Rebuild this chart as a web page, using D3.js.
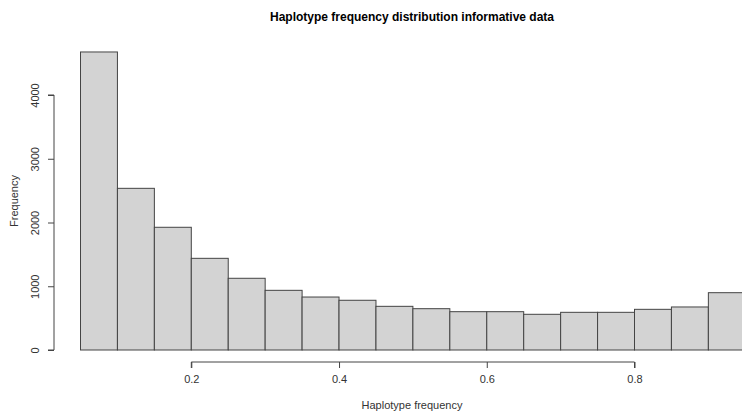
<!DOCTYPE html>
<html>
<head>
<meta charset="utf-8">
<script src="https://cdn.jsdelivr.net/npm/d3@7"></script>
<style>
  html, body { margin: 0; padding: 0; background: #fff; }
  svg { display: block; font-family: "Liberation Sans", Arial, sans-serif; }
</style>
</head>
<body>
<svg id="chart" width="742" height="411"></svg>
<script>
// Histogram bins (lower edges, width 0.05) and counts
const binStarts = [0.05, 0.10, 0.15, 0.20, 0.25, 0.30, 0.35, 0.40, 0.45,
                   0.50, 0.55, 0.60, 0.65, 0.70, 0.75, 0.80, 0.85, 0.90];
const counts = [4675, 2536, 1925, 1438, 1125, 936, 831, 780, 685,
                648, 601, 601, 560, 591, 591, 638, 675, 899];
const binWidth = 0.05;
const xTicks = [0.2, 0.4, 0.6, 0.8];
const yTicks = [0, 1000, 2000, 3000, 4000];

const titleText = "Haplotype frequency distribution informative data";
const xLabel = "Haplotype frequency";
const yLabel = "Frequency";

const svg = d3.select("#chart");

const x = d3.scaleLinear().domain([0.2, 0.8]).range([191.3, 634.5]);
const y = d3.scaleLinear().domain([0, 4000]).range([350, 95]);

// bars
svg.append("g")
  .selectAll("rect")
  .data(binStarts.map((s, i) => ({ s, c: counts[i] })))
  .join("rect")
  .attr("x", d => x(d.s))
  .attr("y", d => y(d.c))
  .attr("width", d => x(d.s + binWidth) - x(d.s))
  .attr("height", d => y(0) - y(d.c))
  .attr("fill", "#d3d3d3")
  .attr("stroke", "#444")
  .attr("stroke-width", 1);

// x axis
const xAxis = svg.append("g")
  .attr("transform", "translate(0,362)")
  .call(d3.axisBottom(x).tickValues(xTicks).tickSize(6).tickPadding(7)
        .tickFormat(d3.format(".1f")));
xAxis.select(".domain").attr("stroke", "#444").attr("d", `M${x(0.2)},6V0H${x(0.8)}V6`);
xAxis.selectAll(".tick line").attr("stroke", "#444");
xAxis.selectAll("text").attr("font-size", 11).attr("fill", "#333")
  .attr("font-family", "Liberation Sans, Arial, sans-serif");

// y axis
const yAxis = svg.append("g")
  .attr("transform", "translate(54,0)")
  .call(d3.axisLeft(y).tickValues(yTicks).tickSize(6).tickPadding(0)
        .tickFormat(d3.format("d")));
yAxis.select(".domain").attr("stroke", "#444").attr("d", `M-6,${y(0)}H0V${y(4000)}H-6`);
yAxis.selectAll(".tick line").attr("stroke", "#444");
yAxis.selectAll("text")
  .attr("font-size", 11).attr("fill", "#333")
  .attr("font-family", "Liberation Sans, Arial, sans-serif")
  .attr("x", null).attr("dy", null)
  .attr("text-anchor", "middle")
  .attr("transform", "translate(-15,0) rotate(-90)");

// titles
svg.append("text")
  .attr("x", 412).attr("y", 21)
  .attr("text-anchor", "middle")
  .attr("font-size", 12).attr("font-weight", "bold").attr("fill", "#000")
  .text(titleText);

svg.append("text")
  .attr("x", 412).attr("y", 409)
  .attr("text-anchor", "middle")
  .attr("font-size", 11).attr("fill", "#333")
  .text(xLabel);

svg.append("text")
  .attr("transform", "translate(18,201) rotate(-90)")
  .attr("text-anchor", "middle")
  .attr("font-size", 11).attr("fill", "#333")
  .text(yLabel);
</script>
</body>
</html>
